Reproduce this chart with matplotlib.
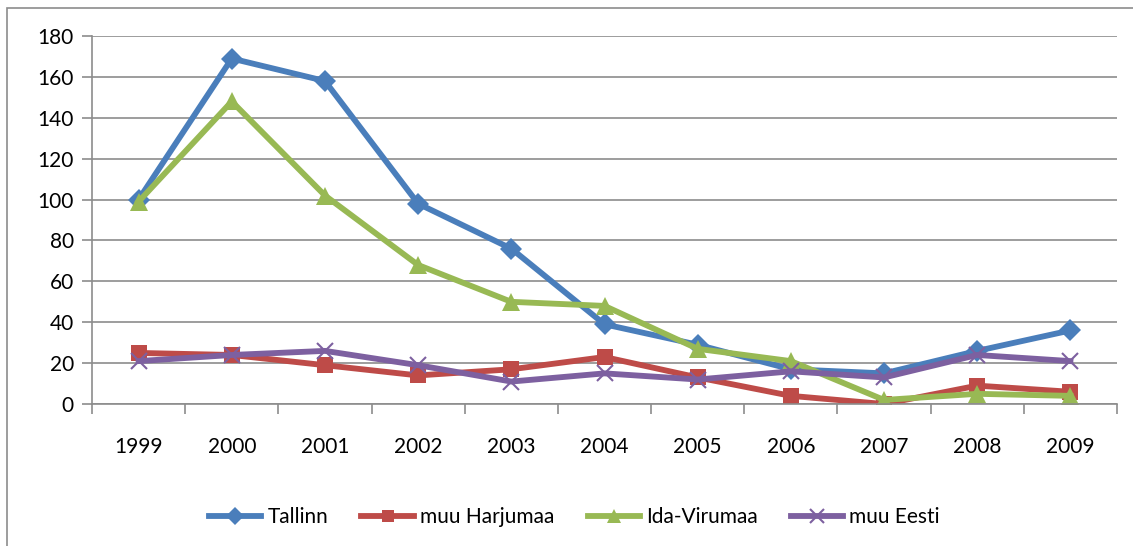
import matplotlib.pyplot as plt
from matplotlib.patches import Rectangle

years = ["1999", "2000", "2001", "2002", "2003", "2004", "2005", "2006", "2007", "2008", "2009"]
tallinn = [100, 169, 158, 98, 76, 39, 29, 17, 15, 26, 36]
harjumaa = [25, 24, 19, 14, 17, 23, 13, 4, 0, 9, 6]
ida_virumaa = [99, 148, 102, 68, 50, 48, 27, 21, 2, 5, 4]
muu_eesti = [21, 24, 26, 19, 11, 15, 12, 16, 13, 24, 21]

plt.rcParams["font.family"] = ["Lato", "DejaVu Sans"]

fig = plt.figure(figsize=(11.33, 5.46), dpi=100)
ax = fig.add_axes([0.0812, 0.26, 0.9047, 0.674])
fig.patches.append(Rectangle((0.006, -0.01), 1.2, 0.996, transform=fig.transFigure,
                             fill=False, edgecolor="#8c8c8c", linewidth=1.2))

x = range(len(years))
series = [
    (tallinn, "Tallinn", "#4A7EBB", "D", 11),
    (harjumaa, "muu Harjumaa", "#BE4B48", "s", 11),
    (ida_virumaa, "Ida-Virumaa", "#98B954", "^", 13),
    (muu_eesti, "muu Eesti", "#7D60A0", "x", 12),
]
for vals, name, col, mk, ms in series:
    ax.plot(x, vals, color=col, linewidth=4.2, marker=mk, markersize=ms,
            markeredgewidth=1.5 if mk == "x" else 0, markeredgecolor=col, label=name)

ax.set_xlim(-0.5, len(years) - 0.5)
ax.set_ylim(0, 180)
ax.set_yticks(range(0, 181, 20))
ax.set_xticks(list(x))
ax.set_xticklabels(years)
ax.set_xticks([i - 0.5 for i in range(len(years) + 1)], minor=True)
ax.tick_params(axis="x", which="major", length=0, pad=24, labelsize=15)
ax.tick_params(axis="x", which="minor", length=7, color="#8c8c8c", width=1.2)
ax.tick_params(axis="y", length=7, color="#8c8c8c", width=1.2, labelsize=15, pad=6)
ax.grid(axis="y", color="#8c8c8c", linewidth=1.2)
ax.set_axisbelow(True)
for s in ["top", "right"]:
    ax.spines[s].set_visible(False)
for s in ["left", "bottom"]:
    ax.spines[s].set_color("#8c8c8c")
    ax.spines[s].set_linewidth(1.2)

leg = fig.legend(loc="center", bbox_to_anchor=(0.507, 0.053), ncol=4, frameon=False,
                 fontsize=15, handlelength=2.5, columnspacing=1.6, handletextpad=0.3,
                 markerscale=0.8)

fig.savefig("out.png", dpi=100)
